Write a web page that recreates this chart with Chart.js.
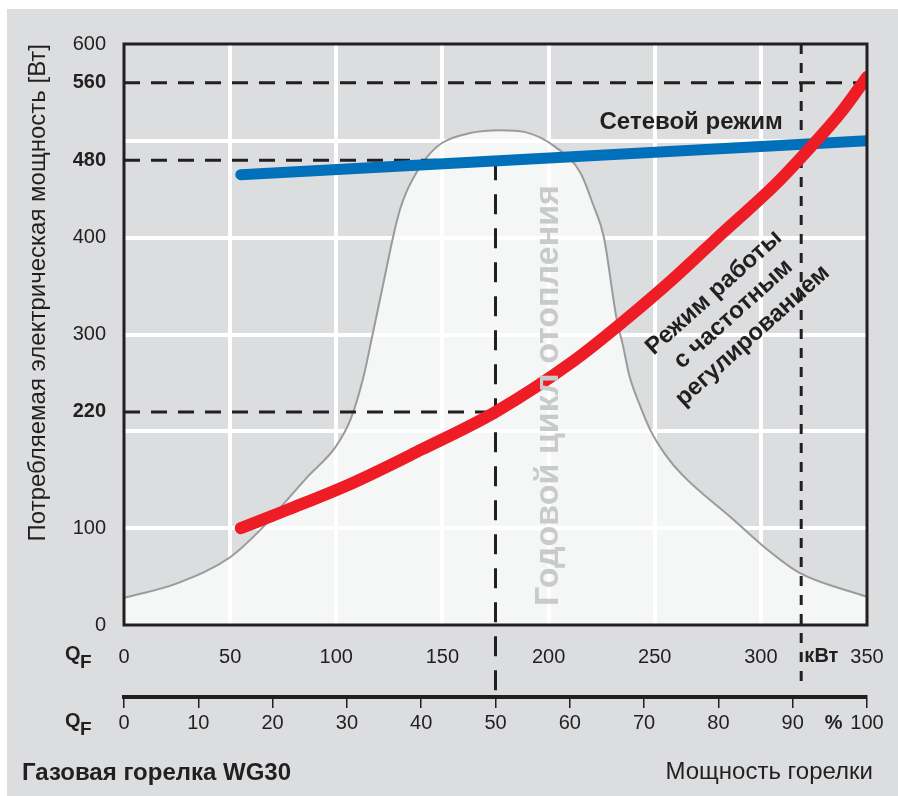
<!DOCTYPE html>
<html>
<head>
<meta charset="utf-8">
<script src="https://cdn.jsdelivr.net/npm/chart.js@4.4.1/dist/chart.umd.min.js"></script>
<style>
  html, body { margin: 0; padding: 0; background: #fff; }
  #wrap { position: relative; width: 898px; height: 796px; }
</style>
</head>
<body>
<div id="wrap"><canvas id="chart"></canvas></div>
<script>
var INK = '#231f20';
var FONT = '"Liberation Sans", Arial, Helvetica, sans-serif';

// axes
var kwTicks = [0, 50, 100, 150, 200, 250, 300, 350];
var pctTicks = [0, 10, 20, 30, 40, 50, 60, 70, 80, 90, 100];
var yTicks = [0, 100, 200, 220, 300, 400, 480, 500, 560, 600];
var yLabels = [0, 100, 220, 300, 400, 480, 560, 600];
var yBold = [220, 480, 560];
var yGrid = [100, 200, 300, 400, 500];
var kwGrid = [50, 100, 150, 200, 250, 300];

// heating season curve (shape only)
var bellKw = [0, 25, 50, 65, 74, 86, 100, 107, 113, 117, 122, 127, 130, 133, 138, 143, 150, 163, 177, 189, 203, 215, 221, 226, 232, 235, 238, 243, 248, 255, 263, 287, 303, 318, 350];
var bellW = [28, 43, 70, 100, 122, 152, 185, 214, 258, 299, 351, 403, 429, 447, 468, 484, 498, 508, 511, 509, 494, 467, 434, 401, 317, 289, 258, 227, 201, 176, 155, 109, 78, 54, 29];

// mains operation
var netKw = [55, 350];
var netW = [465, 500];

// variable speed operation
var vfdKw = [55, 77, 108, 140, 175, 212, 235, 259, 282, 306, 322, 338, 350];
var vfdW = [100, 119, 147, 181, 220, 273, 313, 358, 405, 453, 490, 530, 566];

// reference dashed lines
var dashW = [560, 480, 220];
var dashWEndKw = [350, 175, 175];
var dashKw = [175, 319];
var dashKwTopW = [480, 600];

function pts(xs, ys) {
  return xs.map(function (x, i) { return { x: x, y: ys[i] }; });
}

function setTicks(list) {
  return function (scale) {
    scale.ticks = list.map(function (v) { return { value: v }; });
  };
}

var decor = {
  id: 'decor',
  beforeDraw: function (chart) {
    var ctx = chart.ctx;
    ctx.save();
    ctx.fillStyle = '#dcdddf';
    ctx.fillRect(7, 9, chart.width - 7, chart.height - 9);
    ctx.restore();
  },
  beforeDatasetDraw: function (chart, args) {
    if (args.index !== 1) return;
    var ctx = chart.ctx;
    var xs = chart.scales.x, ys = chart.scales.y, x2 = chart.scales.x2;
    ctx.save();
    ctx.strokeStyle = INK;
    ctx.lineWidth = 3;
    ctx.setLineDash([16, 11]);
    dashW.forEach(function (w, i) {
      var y = ys.getPixelForValue(w);
      ctx.beginPath();
      ctx.moveTo(xs.getPixelForValue(0), y);
      ctx.lineTo(xs.getPixelForValue(dashWEndKw[i]), y);
      ctx.stroke();
    });
    var patterns = [[20, 14], [10, 9]];
    var ends = [x2.top, x2.top - 9];
    dashKw.forEach(function (kw, i) {
      var x = xs.getPixelForValue(kw);
      ctx.setLineDash(patterns[i]);
      ctx.beginPath();
      ctx.moveTo(x, ys.getPixelForValue(dashKwTopW[i]));
      ctx.lineTo(x, ends[i]);
      ctx.stroke();
    });
    ctx.restore();
  },
  afterDatasetsDraw: function (chart) {
    var ctx = chart.ctx;
    var a = chart.chartArea;
    var xs = chart.scales.x, ys = chart.scales.y, x2 = chart.scales.x2;
    ctx.save();

    // gray label inside the bell
    ctx.save();
    ctx.translate(xs.getPixelForValue(200), ys.getPixelForValue(237));
    ctx.rotate(-Math.PI / 2);
    ctx.font = 'bold 34px ' + FONT;
    ctx.fillStyle = '#c9cacc';
    ctx.textAlign = 'center';
    ctx.textBaseline = 'middle';
    ctx.fillText('Годовой цикл отопления', 0, 0);
    ctx.restore();

    // frame
    ctx.strokeStyle = INK;
    ctx.lineWidth = 3;
    ctx.strokeRect(a.left, a.top, a.right - a.left, a.bottom - a.top);

    ctx.fillStyle = INK;
    ctx.textBaseline = 'middle';
    ctx.textAlign = 'left';
    ctx.font = 'bold 24px ' + FONT;
    ctx.fillText('Сетевой режим', xs.getPixelForValue(224), ys.getPixelForValue(519));

    ctx.save();
    ctx.translate(xs.getPixelForValue(287), ys.getPixelForValue(321));
    ctx.rotate(-42 * Math.PI / 180);
    ctx.font = 'bold 24px ' + FONT;
    ctx.textAlign = 'center';
    ctx.fillText('Режим работы', 0, -29);
    ctx.fillText('с частотным', 0, 0);
    ctx.fillText('регулированием', 0, 29);
    ctx.restore();

    // axis row captions
    var rows = [xs.top + 31, x2.top + 26];
    rows.forEach(function (y) {
      ctx.font = 'bold 20px ' + FONT;
      ctx.textAlign = 'left';
      ctx.fillText('Q', 65, y - 2);
      ctx.font = 'bold 19px ' + FONT;
      ctx.fillText('F', 80, y + 7);
    });
    ctx.font = 'bold 20px ' + FONT;
    ctx.textAlign = 'center';
    ctx.fillText('кВт', xs.getPixelForValue(328.5), rows[0]);
    ctx.fillText('%', x2.getPixelForValue(95.5), rows[1]);

    ctx.textBaseline = 'alphabetic';
    ctx.textAlign = 'left';
    ctx.font = 'bold 24px ' + FONT;
    ctx.fillText('Газовая горелка WG30', 22, 780);
    ctx.textAlign = 'right';
    ctx.font = '24px ' + FONT;
    ctx.fillText('Мощность горелки', 873, 779);
    ctx.restore();
  }
};

Chart.defaults.font.family = FONT;
Chart.defaults.color = INK;

new Chart(document.getElementById('chart'), {
  type: 'line',
  data: {
    datasets: [
      {
        label: 'Режим работы с частотным регулированием',
        data: pts(vfdKw, vfdW),
        borderColor: '#ee1c25',
        borderWidth: 12,
        borderCapStyle: 'round',
        cubicInterpolationMode: 'monotone',
        pointRadius: 0,
        fill: false,
        clip: 0,
        order: 0
      },
      {
        label: 'Сетевой режим',
        data: pts(netKw, netW),
        borderColor: '#0070bb',
        borderWidth: 11,
        borderCapStyle: 'round',
        pointRadius: 0,
        fill: false,
        clip: 0,
        order: 1
      },
      {
        label: 'Годовой цикл отопления',
        data: pts(bellKw, bellW),
        borderColor: '#9b9b9b',
        borderWidth: 2,
        backgroundColor: 'rgba(255,255,255,0.72)',
        cubicInterpolationMode: 'monotone',
        pointRadius: 0,
        fill: 'origin',
        clip: 0,
        order: 2
      }
    ]
  },
  options: {
    responsive: true,
    maintainAspectRatio: false,
    animation: false,
    events: [],
    layout: { padding: { left: 0, top: 44, right: 31, bottom: 49 } },
    plugins: {
      legend: { display: false },
      tooltip: { enabled: false }
    },
    scales: {
      x: {
        type: 'linear',
        position: 'bottom',
        weight: 0,
        min: 0,
        max: 350,
        afterBuildTicks: setTicks(kwTicks),
        afterFit: function (s) { s.height = 72; s.paddingLeft = 0; s.paddingRight = 0; },
        grid: {
          color: function (c) { return kwGrid.indexOf(c.tick && c.tick.value) >= 0 ? '#fff' : 'rgba(0,0,0,0)'; },
          lineWidth: 4,
          drawTicks: false
        },
        border: { display: false },
        ticks: { font: { size: 20 }, padding: 20, maxRotation: 0, autoSkip: false }
      },
      x2: {
        type: 'linear',
        position: 'bottom',
        weight: 1,
        min: 0,
        max: 100,
        afterBuildTicks: setTicks(pctTicks),
        afterFit: function (s) { s.height = 50; s.paddingLeft = 0; s.paddingRight = 0; },
        grid: { drawOnChartArea: false, color: INK, lineWidth: 1.5, tickLength: 11 },
        border: { display: true, color: INK, width: 4 },
        ticks: { font: { size: 20 }, padding: 3, maxRotation: 0, autoSkip: false }
      },
      y: {
        type: 'linear',
        min: 0,
        max: 600,
        afterBuildTicks: setTicks(yTicks),
        afterFit: function (s) { s.width = 124; },
        grid: {
          color: function (c) { return yGrid.indexOf(c.tick && c.tick.value) >= 0 ? '#fff' : 'rgba(0,0,0,0)'; },
          lineWidth: 4,
          drawTicks: false
        },
        border: { display: false },
        ticks: {
          padding: 18,
          autoSkip: false,
          callback: function (v) { return yLabels.indexOf(v) >= 0 ? String(v) : ''; },
          font: function (c) {
            var v = c.tick ? c.tick.value : null;
            return { size: 20, weight: yBold.indexOf(v) >= 0 ? 'bold' : 'normal' };
          }
        },
        title: {
          display: true,
          text: 'Потребляемая электрическая мощность [Вт]',
          align: 'end',
          font: { size: 24 },
          padding: { top: 24, bottom: 0 }
        }
      }
    }
  },
  plugins: [decor]
});
</script>
</body>
</html>
